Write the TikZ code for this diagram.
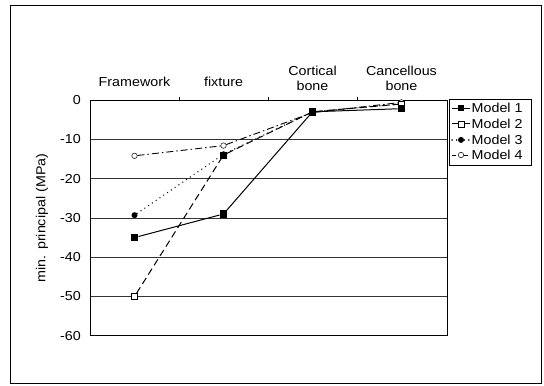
\documentclass[tikz,border=0pt]{standalone}
\usepackage{fontspec}
\setmainfont{Liberation Sans}[FakeStretch=1.1]
\begin{document}
\begin{tikzpicture}[x=1pt,y=3.93pt,
	sq/.style={rectangle,fill=black,inner sep=0pt,minimum size=7.5pt},
	osq/.style={rectangle,draw=black,fill=white,inner sep=0pt,minimum size=6pt,line width=0.6pt},
	dot/.style={circle,fill=black,inner sep=0pt,minimum size=6pt},
	odot/.style={circle,draw=black,fill=white,inner sep=0pt,minimum size=5.5pt,line width=0.5pt},
	gridline/.style={black!80,line width=0.7pt},
	lbl/.style={font=\fontsize{13}{14}\selectfont,align=center,inner sep=0pt},
	sone/.style={line width=1pt},
	stwo/.style={line width=1pt,dash pattern=on 7pt off 4pt},
	sthree/.style={line width=1.4pt,line cap=round,dash pattern=on 0.1pt off 4.5pt},
	sfour/.style={line width=0.9pt,dash pattern=on 7pt off 3pt on 1.5pt off 3pt}]
	\useasboundingbox (0,25.45) rectangle (544,-72.52);
	\draw[line width=0.6pt] (10.5,24.2) rectangle (541.5,-72.2);
	% plot area
	\draw[gridline] (90,-10) -- (447,-10);
	\draw[gridline] (90,-20) -- (447,-20);
	\draw[gridline] (90,-30) -- (447,-30);
	\draw[gridline] (90,-40) -- (447,-40);
	\draw[gridline] (90,-50) -- (447,-50);
	\draw[line width=0.8pt] (90,0) rectangle (447,-60);
	\draw (179,0) -- (179,0.8);
	\draw (268,0) -- (268,0.8);
	\draw (357,0) -- (357,0.8);
	% axis labels
	\node[lbl,anchor=east] (t0) at (81,0) {0};
	\node[lbl,anchor=east] (t1) at (81,-10) {-10};
	\node[lbl,anchor=east] (t2) at (81,-20) {-20};
	\node[lbl,anchor=east] (t3) at (81,-30) {-30};
	\node[lbl,anchor=east] (t4) at (81,-40) {-40};
	\node[lbl,anchor=east] (t5) at (81,-50) {-50};
	\node[lbl,anchor=east] (t6) at (81,-60) {-60};
	\node[lbl,rotate=90] (ylab) at (42,-30) {min. principal (MPa)};
	\node[lbl] (c1) at (134.5,4.6) {Framework};
	\node[lbl] (c2) at (223.5,4.6) {fixture};
	\node[lbl,anchor=south] (c3) at (312.5,2.4) {Cortical\\[1pt]bone};
	\node[lbl,anchor=south] (c4) at (401.5,2.4) {Cancellous\\[1pt]bone};
	% Model 4
	\node[odot] (m4a) at (134.5,-14.2) {};
	\node[odot] (m4b) at (223.5,-11.6) {};
	\node[odot] (m4c) at (312.5,-3.2) {};
	\node[odot] (m4d) at (401.5,-0.6) {};
	\draw[sfour] (m4a) -- (m4b) -- (m4c) -- (m4d);
	% Model 3
	\node[dot] (m3a) at (134.5,-29.3) {};
	\node[dot] (m3b) at (223.5,-13.8) {};
	\node[dot] (m3c) at (312.5,-3) {};
	\node[dot] (m3d) at (401.5,-1) {};
	\draw[sthree] (m3a) -- (m3b) -- (m3c) -- (m3d);
	% Model 2
	\node[osq] (m2a) at (134.5,-50) {};
	\node[osq,fill=black] (m2b) at (223.5,-14) {};
	\node[osq] (m2c) at (312.5,-3) {};
	\node[osq] (m2d) at (401.5,-1) {};
	\draw[stwo] (m2a) -- (m2b) -- (m2c) -- (m2d);
	% Model 1
	\node[sq] (m1a) at (134.5,-35) {};
	\node[sq] (m1b) at (223.5,-29) {};
	\node[sq] (m1c) at (312.5,-3) {};
	\node[sq] (m1d) at (401.5,-2.2) {};
	\draw[sone] (m1a) -- (m1b) -- (m1c) -- (m1d);
	% legend
	\draw[line width=0.6pt] (449,0.3) rectangle (531,-16.5);
	\coordinate (l1a) at (452,-2.04);
	\node[sq,minimum size=6.5pt] (l1m) at (461,-2.04) {};
	\coordinate (l1b) at (470,-2.04);
	\draw[sone] (l1a) -- (l1m) -- (l1b);
	\node[lbl,anchor=west] (l1t) at (471.5,-2.04) {Model 1};
	\coordinate (l2a) at (452,-6.1);
	\node[osq] (l2m) at (461,-6.1) {};
	\coordinate (l2b) at (470,-6.1);
	\draw[sone] (l2a) -- (l2m) -- (l2b);
	\node[lbl,anchor=west] (l2t) at (471.5,-6.1) {Model 2};
	\coordinate (l3a) at (452,-10.15);
	\node[dot] (l3m) at (461,-10.15) {};
	\coordinate (l3b) at (470,-10.15);
	\draw[sthree] (l3a) -- (l3m) -- (l3b);
	\node[lbl,anchor=west] (l3t) at (471.5,-10.15) {Model 3};
	\coordinate (l4a) at (452,-14.0);
	\node[odot] (l4m) at (461,-14.0) {};
	\coordinate (l4b) at (470,-14.0);
	\draw[sfour,dash pattern=on 4pt off 2pt on 1pt off 2pt] (l4a) -- (l4m) -- (l4b);
	\node[lbl,anchor=west] (l4t) at (471.5,-14.0) {Model 4};
\end{tikzpicture}
\end{document}
